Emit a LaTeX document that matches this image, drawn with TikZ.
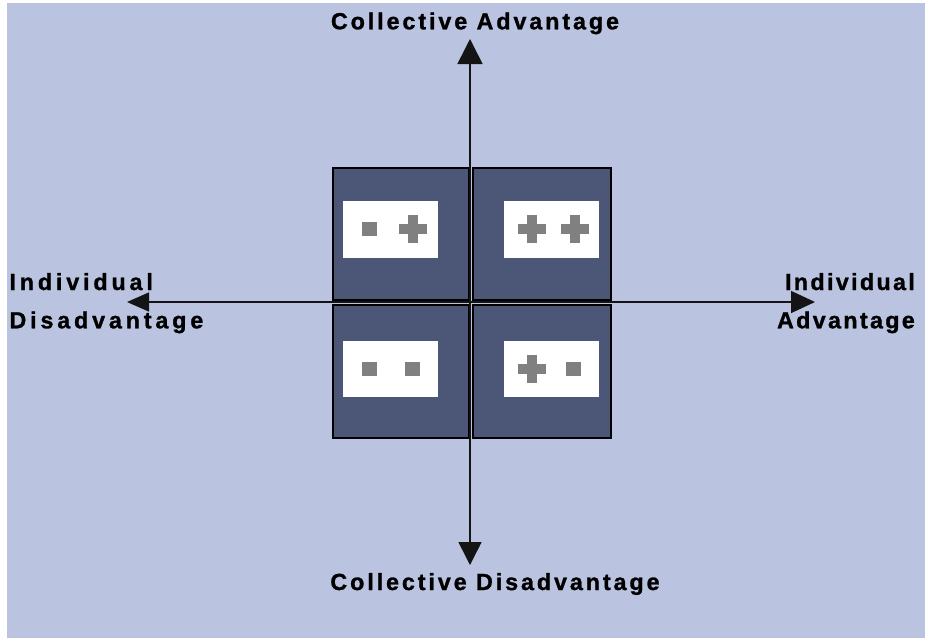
\documentclass[tikz,border=0pt]{standalone}
\usepackage{fontspec}
\setmainfont{Liberation Sans}
\newfontfamily\lblmidfont{Liberation Sans}[LetterSpace=12.5,FakeBold=1.2]
\newfontfamily\lblleftfont{Liberation Sans}[LetterSpace=16.5,FakeBold=1.2]
\newfontfamily\lblrightfont{Liberation Sans}[LetterSpace=10,FakeBold=1.2]
\usetikzlibrary{arrows.meta}
\definecolor{bgblue}{RGB}{186,196,224}
\definecolor{boxblue}{RGB}{76,87,120}
\definecolor{symgray}{RGB}{128,128,128}
\definecolor{axisgray}{RGB}{20,20,20}
\tikzset{
  quad/.style={draw=black, line width=2.2pt, fill=boxblue, rectangle, inner sep=0pt},
  card/.style={fill=white, rectangle, inner sep=0pt, minimum width=95pt, minimum height=57pt},
  minussym/.style={fill=symgray, rectangle, inner sep=0pt, minimum width=15pt, minimum height=14pt},
  plussym/.pic={\fill[symgray] (-14,-5) rectangle (14,5); \fill[symgray] (-5,-14) rectangle (5,14);},
  axis/.style={draw=axisgray, line width=1.5pt},
  lbl/.style={inner sep=0pt, font=\bfseries\fontsize{23.3}{28}\selectfont}
}
\begin{document}
\begin{tikzpicture}[x=1pt,y=-1pt]
\useasboundingbox (0,0) rectangle (925,638);
\fill[white] (0,0) rectangle (925,638);
\fill[bgblue] (7,3) rectangle (925,638);

% quadrants
\node[quad, minimum width=136pt, minimum height=132pt] (tl) at (401,234) {};
\node[quad, minimum width=138pt, minimum height=132pt] (tr) at (542,234) {};
\node[quad, minimum width=136pt, minimum height=133pt] (bl) at (401,371.5) {};
\node[quad, minimum width=138pt, minimum height=133pt] (br) at (542,371.5) {};

% white cards
\node[card] (tlc) at (390.5,229.5) {};
\node[card] (trc) at (551.5,229.5) {};
\node[card, minimum height=56pt] (blc) at (390.5,369) {};
\node[card, minimum height=56pt] (brc) at (551.5,369) {};

% symbols
\node[minussym] (tlm) at (369.2,228.8) {};
\pic at (413.3,228.5) {plussym};
\pic at (531.7,228.5) {plussym};
\pic at (574.7,228.5) {plussym};
\node[minussym] (blm1) at (369.2,368.8) {};
\node[minussym] (blm2) at (412.2,368.8) {};
\pic at (531.7,369) {plussym};
\node[minussym] (brm) at (573.3,368.8) {};

% axes
\coordinate (atop) at (470,39);
\coordinate (abot) at (470,565);
\coordinate (alft) at (127,302);
\coordinate (argt) at (815,302);
\draw[axis, {Triangle[length=23pt,width=23pt]}-{Triangle[length=25pt,width=25pt]}] (abot) -- (atop);
\draw[axis, {Triangle[length=22pt,width=19pt]}-{Triangle[length=24pt,width=22pt]}] (alft) -- (argt);

% labels
\node[lbl, anchor=base] (ca) at (475,29.3) {\lblmidfont Collective Advantage};
\node[lbl, anchor=base] (cd) at (495,590) {\lblmidfont Collective Disadvantage};
\node[lbl, anchor=base west] (il1) at (9.3,290) {\lblleftfont Individual};
\node[lbl, anchor=base west] (il2) at (9.3,328.3) {\lblleftfont Disadvantage};
\node[lbl, anchor=base east] (ir1) at (915,290) {\lblrightfont Individual};
\node[lbl, anchor=base east] (ir2) at (915,328.3) {\lblrightfont Advantage};
\end{tikzpicture}
\end{document}
